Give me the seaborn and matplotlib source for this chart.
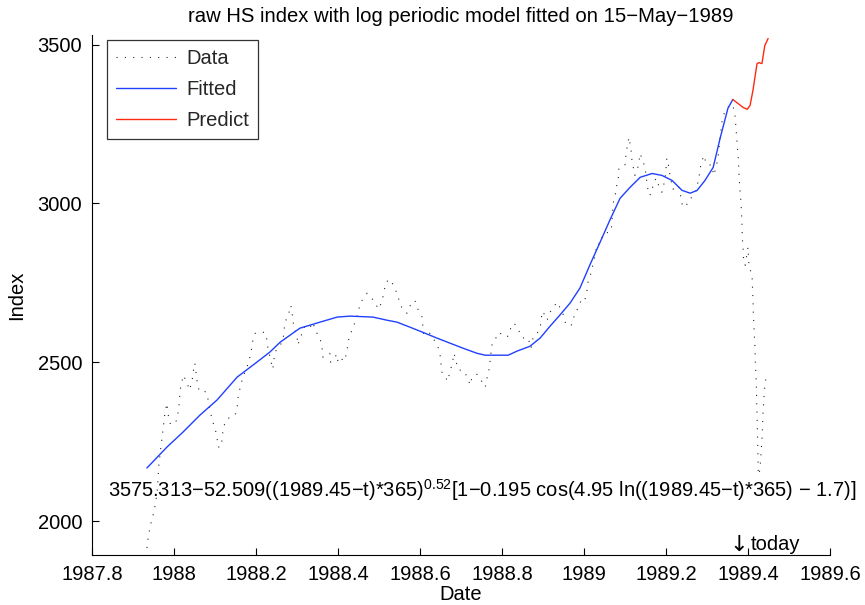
import matplotlib
matplotlib.use('Agg')
import matplotlib.pyplot as plt
import seaborn as sns

# ---- data ----
data_t = [1987.934, 1987.937, 1987.944, 1987.949, 1987.954, 1987.959, 1987.963, 1987.968, 1987.973, 1987.978,
          1987.983, 1987.985, 1987.990, 1987.998,
          1988.007, 1988.012, 1988.015, 1988.020, 1988.022, 1988.032, 1988.037, 1988.044, 1988.046, 1988.051,
          1988.056, 1988.061, 1988.068, 1988.080,
          1988.088, 1988.093, 1988.100, 1988.105, 1988.107, 1988.115, 1988.120, 1988.127, 1988.137, 1988.149,
          1988.154, 1988.156, 1988.161, 1988.168, 1988.178,
          1988.185, 1988.190, 1988.193, 1988.198, 1988.210, 1988.222, 1988.227, 1988.229, 1988.234, 1988.239,
          1988.241, 1988.246, 1988.256, 1988.266,
          1988.268, 1988.271, 1988.280, 1988.285, 1988.290, 1988.292, 1988.300, 1988.302, 1988.315, 1988.320,
          1988.332, 1988.339, 1988.344, 1988.356, 1988.361, 1988.363,
          1988.380, 1988.382, 1988.398, 1988.400, 1988.410, 1988.415, 1988.422, 1988.424, 1988.429, 1988.437,
          1988.449, 1988.454,
          1988.471, 1988.478, 1988.490, 1988.498, 1988.507, 1988.512, 1988.517, 1988.527, 1988.534, 1988.544,
          1988.549, 1988.556, 1988.568, 1988.573, 1988.580, 1988.588, 1988.595,
          1988.605, 1988.607, 1988.609, 1988.624, 1988.632, 1988.644, 1988.649, 1988.651, 1988.654, 1988.663,
          1988.666, 1988.671, 1988.676, 1988.680, 1988.683, 1988.688, 1988.695, 1988.705,
          1988.717, 1988.722, 1988.727, 1988.739, 1988.749, 1988.759, 1988.763, 1988.768, 1988.771, 1988.773,
          1988.776, 1988.785, 1988.793,
          1988.807, 1988.815, 1988.822, 1988.829, 1988.839, 1988.846, 1988.851, 1988.861, 1988.866, 1988.871,
          1988.876, 1988.883, 1988.893, 1988.898, 1988.905, 1988.910, 1988.917,
          1988.924, 1988.934, 1988.941, 1988.949, 1988.954, 1988.968, 1988.973, 1988.978, 1988.988, 1988.993,
          1989.002, 1989.007, 1989.010, 1989.017, 1989.022, 1989.027, 1989.032,
          1989.039, 1989.046, 1989.066, 1989.068, 1989.071, 1989.076, 1989.080, 1989.083, 1989.085, 1989.100,
          1989.102, 1989.105, 1989.107, 1989.110, 1989.115, 1989.117, 1989.124,
          1989.132, 1989.137, 1989.141, 1989.149, 1989.154, 1989.159, 1989.166, 1989.168, 1989.176, 1989.180,
          1989.190, 1989.193, 1989.198, 1989.202, 1989.207, 1989.210, 1989.217, 1989.227, 1989.232,
          1989.239, 1989.241, 1989.246, 1989.256, 1989.263, 1989.276, 1989.278, 1989.283, 1989.285, 1989.293,
          1989.298, 1989.312, 1989.315, 1989.317,
          1989.327, 1989.332, 1989.337, 1989.344, 1989.351, 1989.356, 1989.363, 1989.368, 1989.371, 1989.373,
          1989.376, 1989.378, 1989.380, 1989.383, 1989.385, 1989.386, 1989.388, 1989.389, 1989.393,
          1989.400, 1989.402, 1989.410, 1989.412, 1989.413, 1989.415, 1989.417, 1989.418, 1989.420, 1989.421,
          1989.422, 1989.423, 1989.424, 1989.425, 1989.429, 1989.434, 1989.437, 1989.441, 1989.444]
data_v = [1915, 1950, 1994, 2019, 2050, 2091, 2176, 2233, 2286, 2343, 2371, 2340, 2308, 2302,
          2318, 2359, 2412, 2443, 2459, 2437, 2412, 2437, 2465, 2497, 2443, 2412, 2415, 2403,
          2349, 2318, 2292, 2264, 2233, 2233, 2292, 2318, 2327, 2333, 2359, 2387, 2418, 2453, 2484,
          2516, 2547, 2576, 2591, 2594, 2594, 2569, 2544, 2516, 2487, 2478, 2532, 2547, 2569,
          2598, 2626, 2654, 2679, 2638, 2610, 2582, 2554, 2601, 2616, 2610, 2626, 2601, 2576, 2547, 2516,
          2528, 2500, 2525, 2497, 2509, 2503, 2532, 2560, 2585, 2610, 2654, 2686,
          2717, 2708, 2689, 2667, 2689, 2720, 2752, 2761, 2745, 2717, 2695, 2670, 2654, 2667, 2692, 2692, 2667,
          2642, 2613, 2585, 2591, 2576, 2547, 2522, 2497, 2465, 2453, 2440, 2459, 2484, 2506, 2528, 2500, 2475, 2475,
          2450, 2428, 2453, 2462, 2443, 2421, 2447, 2475, 2503, 2528, 2560, 2576, 2594,
          2579, 2582, 2610, 2623, 2607, 2582, 2576, 2579, 2566, 2544, 2579, 2585, 2607, 2660, 2648, 2632, 2657,
          2670, 2689, 2673, 2651, 2626, 2613, 2629, 2657, 2673, 2698, 2695, 2723, 2752, 2780, 2808, 2837, 2874,
          2871, 2903, 2912, 2940, 3000, 3025, 3057, 3066, 3110, 3120, 3151, 3176, 3192, 3208, 3164, 3135, 3088,
          3116, 3157, 3142, 3113, 3057, 3025, 3032, 3060, 3079, 3063, 3035, 3050, 3079, 3142, 3113, 3085, 3044, 3057, 3050,
          3000, 2988, 2994, 3000, 3022, 3044, 3072, 3098, 3126, 3151, 3123, 3120, 3098, 3088,
          3142, 3208, 3261, 3293, 3302, 3311, 3308, 3283, 3230, 3198, 3145, 3094, 3050, 3000, 2947, 2893, 2862, 2830, 2805,
          2862, 2811, 2767, 2704, 2654, 2601, 2547, 2497, 2443, 2390, 2340, 2286, 2223, 2145, 2160, 2255, 2349, 2428, 2450]

fit_t = [1987.934, 1987.983, 1988.022, 1988.063, 1988.105, 1988.154, 1988.202, 1988.234, 1988.259, 1988.307,
         1988.356, 1988.398, 1988.429, 1988.485, 1988.520, 1988.544, 1988.576, 1988.607, 1988.641, 1988.673,
         1988.705, 1988.739, 1988.759, 1988.815, 1988.837, 1988.868, 1988.893, 1988.917, 1988.941, 1988.966,
         1988.990, 1989.015, 1989.039, 1989.063, 1989.088, 1989.112, 1989.137, 1989.166, 1989.190, 1989.215,
         1989.239, 1989.259, 1989.276, 1989.295, 1989.315, 1989.332, 1989.351, 1989.363]
fit_v = [2167, 2233, 2280, 2333, 2381, 2453, 2500, 2532, 2563, 2607,
         2626, 2642, 2645, 2642, 2632, 2626, 2610, 2594, 2576, 2560,
         2544, 2528, 2522, 2522, 2535, 2550, 2576, 2613, 2648, 2686,
         2733, 2808, 2877, 2947, 3016, 3050, 3082, 3094, 3088, 3072,
         3041, 3032, 3041, 3072, 3113, 3205, 3299, 3327]

pred_t = [1989.363, 1989.388, 1989.398, 1989.405, 1989.412, 1989.422, 1989.427, 1989.434, 1989.441, 1989.449]
pred_v = [3327, 3302, 3296, 3308, 3355, 3440, 3443, 3440, 3497, 3519]

x_ticks = [1987.8, 1988.0, 1988.2, 1988.4, 1988.6, 1988.8, 1989.0, 1989.2, 1989.4, 1989.6]
x_ticklabels = ['1987.8', '1988', '1988.2', '1988.4', '1988.6', '1988.8', '1989', '1989.2', '1989.4', '1989.6']
y_ticks = [2000, 2500, 3000, 3500]
today_t = 1989.377

title = 'raw HS index with log periodic model fitted on 15\u2212May\u22121989'
formula = ('3575.313\u221252.509((1989.45\u2212t)*365)$^{0.52}$'
           '[1\u22120.195 cos(4.95 ln((1989.45\u2212t)*365) \u2212 1.7)]')

# ---- style ----
sns.set_theme(style='white')
plt.rcParams['font.family'] = ['Liberation Sans', 'DejaVu Sans']
plt.rcParams['mathtext.fontset'] = 'custom'
plt.rcParams['mathtext.rm'] = 'Liberation Sans'
plt.rcParams['mathtext.it'] = 'Liberation Sans:italic'
plt.rcParams['mathtext.bf'] = 'Liberation Sans:bold'

FS = 14.5
fig = plt.figure(figsize=(8.65, 6.05), dpi=100)
ax = fig.add_axes([92 / 865, 50 / 605, 738 / 865, 520 / 605])

sns.lineplot(x=data_t, y=data_v, ax=ax, color='0.15', linewidth=0.8, linestyle=(0, (1, 6.5)),
             sort=False, estimator=None, label='Data')
sns.lineplot(x=fit_t, y=fit_v, ax=ax, color='#2040ff', linewidth=1.0,
             sort=False, estimator=None, label='Fitted')
sns.lineplot(x=pred_t, y=pred_v, ax=ax, color='#ff2a10', linewidth=1.0,
             sort=False, estimator=None, label='Predict')

ax.set_xlim(1987.8, 1989.6)
ax.set_ylim(1893, 3530)
ax.set_xticks(x_ticks)
ax.set_xticklabels(x_ticklabels)
ax.set_yticks(y_ticks)
ax.tick_params(direction='in', length=5, width=0.8, labelsize=FS, colors='black',
               bottom=True, left=True)
ax.tick_params(axis='x', pad=7)
ax.tick_params(axis='y', pad=7)
for s in ['top', 'right']:
    ax.spines[s].set_visible(False)
for s in ['left', 'bottom']:
    ax.spines[s].set_color('black')
    ax.spines[s].set_linewidth(0.8)

ax.set_xlabel('Date', fontsize=FS, color='black', labelpad=1)
ax.set_ylabel('Index', fontsize=FS, color='black', labelpad=8)
ax.set_title(title, fontsize=14.6, color='black', pad=9)

ax.text(1987.839, 2097, formula, fontsize=FS, va='center', ha='left', color='black', clip_on=False)
ax.text(today_t, 1893, '\u2193', fontsize=16, va='bottom', ha='center', color='black',
        family=['DejaVu Sans'])
ax.annotate('today', xy=(today_t, 1925), xytext=(9, 0), textcoords='offset points',
            fontsize=FS, va='center', ha='left', color='black')

leg = ax.legend(loc='upper left', bbox_to_anchor=(0.0203, 0.99), borderaxespad=0, fontsize=FS,
                frameon=True, fancybox=False, handlelength=3.0, handletextpad=0.5,
                labelspacing=0.6, borderpad=0.45)
leg.get_frame().set_edgecolor('black')
leg.get_frame().set_linewidth(0.9)

fig.savefig('out.png', dpi=100)
